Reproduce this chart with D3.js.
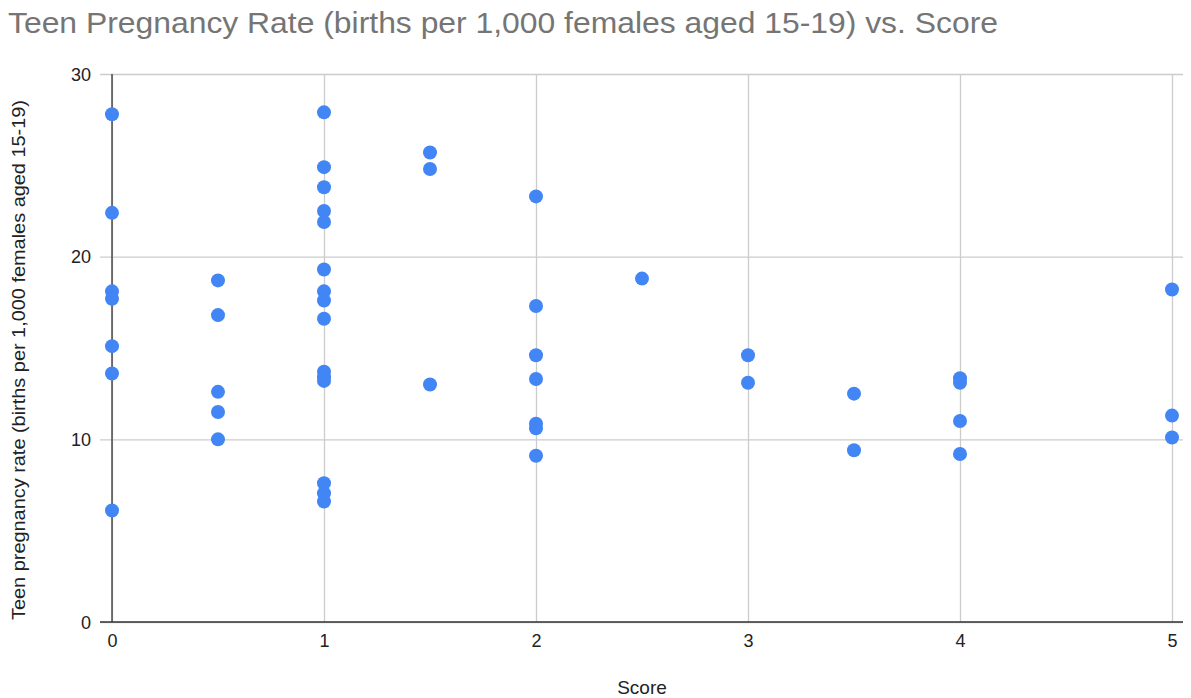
<!DOCTYPE html>
<html><head><meta charset="utf-8">
<script src="https://cdn.jsdelivr.net/npm/d3@7"></script>
<style>body{margin:0;background:#fff;}svg{display:block;font-family:"Liberation Sans",Arial,sans-serif;}</style>
</head><body>
<svg id="c" width="1191" height="698"></svg>
<script>
const title = "Teen Pregnancy Rate (births per 1,000 females aged 15-19) vs. Score";
const xLabel = "Score";
const yLabel = "Teen pregnancy rate (births per 1,000 females aged 15-19)";
const xTicks = [0, 1, 2, 3, 4, 5];
const yTicks = [0, 10, 20, 30];
// one entry per state: score and teen pregnancy rate
const scores = [
  0, 0, 0, 0, 0, 0, 0,
  0.5, 0.5, 0.5, 0.5, 0.5,
  1, 1, 1, 1, 1, 1, 1, 1, 1, 1, 1, 1, 1, 1, 1,
  1.5, 1.5, 1.5,
  2, 2, 2, 2, 2, 2, 2,
  2.5,
  3, 3,
  3.5, 3.5,
  4, 4, 4, 4,
  5, 5, 5
];
const rates = [
  27.8, 22.4, 18.1, 17.7, 15.1, 13.6, 6.1,
  18.7, 16.8, 12.6, 11.5, 10.0,
  27.9, 24.9, 23.8, 22.5, 21.9, 19.3, 18.1, 17.6, 16.6, 13.7, 13.4, 13.2, 7.6, 7.05, 6.6,
  25.7, 24.8, 13.0,
  23.3, 17.3, 14.6, 13.3, 10.85, 10.6, 9.1,
  18.8,
  14.6, 13.1,
  12.5, 9.4,
  13.35, 13.1, 11.0, 9.2,
  18.2, 11.3, 10.1
];

const svg = d3.select("#c");
const L = 112, R = 1172, T = 74, B = 622;
const x = d3.scaleLinear().domain([0,5]).range([L,R]);
const y = d3.scaleLinear().domain([0,30]).range([B,T]);

svg.append("text").attr("x",8).attr("y",33).attr("font-size",29).attr("fill","#757575")
  .attr("textLength",990).attr("lengthAdjust","spacingAndGlyphs").text(title);

// horizontal grid
const gy = svg.append("g").attr("transform",`translate(${L},0)`)
  .call(d3.axisLeft(y).tickValues(yTicks).tickFormat(d3.format("d")).tickSize(-(1183-L)));
gy.select(".domain").remove();
gy.selectAll(".tick line").attr("stroke","#cccccc").attr("stroke-width",1.3).attr("x1",-12);
gy.selectAll(".tick text").attr("font-size",18).attr("fill","#222").attr("x",-21).attr("dy","0.35em")
  .attr("font-family","Liberation Sans, Arial, sans-serif");

// vertical grid
const gx = svg.append("g").attr("transform",`translate(0,${B})`)
  .call(d3.axisBottom(x).tickValues(xTicks).tickFormat(d3.format("d")).tickSize(-(B-T)));
gx.select(".domain").remove();
gx.selectAll(".tick line").attr("stroke","#cccccc").attr("stroke-width",1.3);
gx.selectAll(".tick text").attr("font-size",18).attr("fill","#222").attr("y",25).attr("dy",0)
  .attr("font-family","Liberation Sans, Arial, sans-serif");

// axis lines
svg.append("line").attr("x1",x(0)).attr("x2",x(0)).attr("y1",T).attr("y2",B).attr("stroke","#333").attr("stroke-width",1.3);
svg.append("line").attr("x1",L-12).attr("x2",1183).attr("y1",y(0)).attr("y2",y(0)).attr("stroke","#333").attr("stroke-width",1.5);

// points
svg.append("g").selectAll("circle").data(scores).join("circle")
  .attr("cx",(d)=>x(d)).attr("cy",(d,i)=>y(rates[i])).attr("r",7)
  .attr("fill","#4285f4");

svg.append("text").attr("x",642).attr("y",694).attr("text-anchor","middle").attr("font-size",19).attr("fill","#222").text(xLabel);
svg.append("text").attr("transform",`translate(25,360) rotate(-90)`).attr("text-anchor","middle").attr("font-size",19)
  .attr("textLength",520).attr("lengthAdjust","spacingAndGlyphs").attr("fill","#222").text(yLabel);
</script>
</body></html>
